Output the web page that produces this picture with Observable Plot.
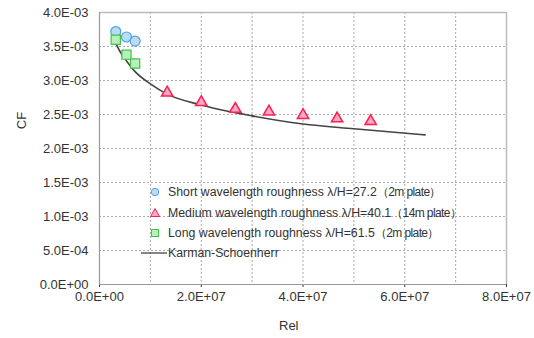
<!DOCTYPE html>
<html><head><meta charset="utf-8">
<script src="https://cdn.jsdelivr.net/npm/d3@7"></script>
<script src="https://cdn.jsdelivr.net/npm/@observablehq/plot@0.6"></script>
<style>
body{margin:0;background:#fff;}
#wrap{position:relative;width:534px;height:338px;font-family:"Liberation Sans",Arial,sans-serif;color:#333;}
.lab{position:absolute;font-size:13px;color:#333;}
.row{position:absolute;left:0;height:20px;display:flex;align-items:center;white-space:nowrap;font-size:12.3px;color:#333;}
.row svg{flex:none;}
.par{letter-spacing:-0.6px;font-size:12px;}
</style></head><body><div id="wrap"></div>
<script>
// ---- data ----
const shortRe = [3.2e6, 5.3e6, 7.0e6];
const shortCf = [3.72e-3, 3.64e-3, 3.58e-3];
const medRe = [1.33e7, 2.0e7, 2.67e7, 3.33e7, 4.0e7, 4.67e7, 5.33e7];
const medCf = [2.82e-3, 2.68e-3, 2.58e-3, 2.54e-3, 2.49e-3, 2.44e-3, 2.40e-3];
const longRe = [3.2e6, 5.3e6, 7.0e6];
const longCf = [3.60e-3, 3.38e-3, 3.25e-3];
const ksRe = [3.3e6, 4e6, 5e6, 7e6, 1e7, 1.33e7, 2e7, 3e7, 4e7, 5e7, 6.4e7];
const ksCf = [3.53e-3, 3.43e-3, 3.32e-3, 3.13e-3, 2.95e-3, 2.80e-3, 2.64e-3, 2.48e-3, 2.36e-3, 2.29e-3, 2.20e-3];
const xTicks = [0, 2e7, 4e7, 6e7, 8e7];
const xGrid = [1e7, 2e7, 3e7, 4e7, 5e7, 6e7, 7e7];
const yTicks = [0, 0.5e-3, 1.0e-3, 1.5e-3, 2.0e-3, 2.5e-3, 3.0e-3, 3.5e-3, 4.0e-3];
const yGrid = [0.5e-3, 1.0e-3, 1.5e-3, 2.0e-3, 2.5e-3, 3.0e-3, 3.5e-3];
const legendNames = [
  "Short wavelength roughness λ/H=27.2",
  "Medium wavelength roughness λ/H=40.1",
  "Long wavelength roughness λ/H=61.5",
  "Karman-Schoenherr"
];
const legendNotes = ["（2m plate）", "（14m plate）", "（2m plate）", ""];

const zip = (a, b) => a.map((x, i) => ({x, y: b[i]}));
const fmtE = v => {
  if (v === 0) return "0.0E+00";
  const [m, e] = v.toExponential(1).split("e");
  const n = +e;
  return m + "E" + (n < 0 ? "-" : "+") + String(Math.abs(n)).padStart(2, "0");
};

const C = {
  sF: "#bcdcf6", sS: "#4ea3e6",
  mF: "#f8a8cc", mS: "#ff1f4a",
  lF: "#b8f0b8", lS: "#3fc24f",
  line: "#444"
};

const chart = Plot.plot({
  width: 534, height: 338,
  marginLeft: 99, marginRight: 28, marginTop: 12, marginBottom: 54,
  style: {fontFamily: "'Liberation Sans', Arial, sans-serif", fontSize: "13px", color: "#333", background: "#fff"},
  x: {domain: [0, 8e7], ticks: xTicks, tickFormat: fmtE, tickSize: 3, tickPadding: 4, label: null},
  y: {domain: [0, 4e-3], ticks: yTicks, tickFormat: fmtE, tickSize: 0, tickPadding: 11, label: null},
  marks: [
    Plot.ruleX(xGrid, {stroke: "#aaa", strokeDasharray: "2,2", strokeWidth: 1}),
    Plot.ruleY(yGrid, {stroke: "#aaa", strokeDasharray: "2,2", strokeWidth: 1}),
    Plot.ruleY([4e-3], {stroke: "#bbb", strokeWidth: 1.5}),
    Plot.ruleX([8e7], {stroke: "#bbb", strokeWidth: 1.5}),
    Plot.ruleX([0], {stroke: "#999", strokeWidth: 1.2}),
    Plot.ruleY([0], {stroke: "#999", strokeWidth: 1.2}),
    Plot.line(zip(ksRe, ksCf), {x: "x", y: "y", stroke: C.line, strokeWidth: 1.6, curve: "monotone-x"}),
    Plot.dot(zip(shortRe, shortCf), {x: "x", y: "y", symbol: "circle", r: 5, fill: C.sF, stroke: C.sS, strokeWidth: 1.2}),
    Plot.dot(zip(medRe, medCf), {x: "x", y: "y", symbol: "triangle", r: 4.2, fill: C.mF, stroke: C.mS, strokeWidth: 1.5}),
    Plot.dot(zip(longRe, longCf), {x: "x", y: "y", symbol: "square", r: 5.2, fill: C.lF, stroke: C.lS, strokeWidth: 1.2})
  ]
});
d3.select(chart).selectAll("text").style("font-size", "13px").style("fill", "#333");
const wrap = document.getElementById("wrap");
chart.style.position = "absolute";
chart.style.left = "0"; chart.style.top = "0";
wrap.appendChild(chart);

// axis titles
const xl = document.createElement("div");
xl.className = "lab"; xl.textContent = "Rel";
xl.style.left = "279px"; xl.style.top = "318px";
wrap.appendChild(xl);
const yl = document.createElement("div");
yl.className = "lab"; yl.textContent = "CF";
yl.style.left = "13px"; yl.style.top = "113px";
yl.style.transform = "rotate(-90deg)"; yl.style.transformOrigin = "center";
wrap.appendChild(yl);

// legend
const symSvg = [
  `<svg width="28" height="20"><circle cx="15" cy="10" r="3.7" fill="${C.sF}" stroke="${C.sS}" stroke-width="1"/></svg>`,
  `<svg width="28" height="20"><path d="M15,5.5L19.5,13.5L10.5,13.5Z" fill="${C.mF}" stroke="${C.mS}" stroke-width="1"/></svg>`,
  `<svg width="28" height="20"><rect x="11.5" y="6.5" width="7" height="7" fill="${C.lF}" stroke="${C.lS}" stroke-width="1"/></svg>`,
  `<svg width="28" height="20"><line x1="1" y1="10" x2="27" y2="10" stroke="${C.line}" stroke-width="1.3"/></svg>`
];
const legend = document.createElement("div");
legend.style.position = "absolute"; legend.style.left = "140px"; legend.style.top = "182px";
const rowTops = [0, 21, 41, 61];
legendNames.forEach((t, i) => {
  const r = document.createElement("div");
  r.className = "row";
  r.style.top = rowTops[i] + "px";
  r.innerHTML = symSvg[i] + `<span>${t}</span><span class="par">${legendNotes[i]}</span>`;
  legend.appendChild(r);
});
wrap.appendChild(legend);
</script>
</body></html>
